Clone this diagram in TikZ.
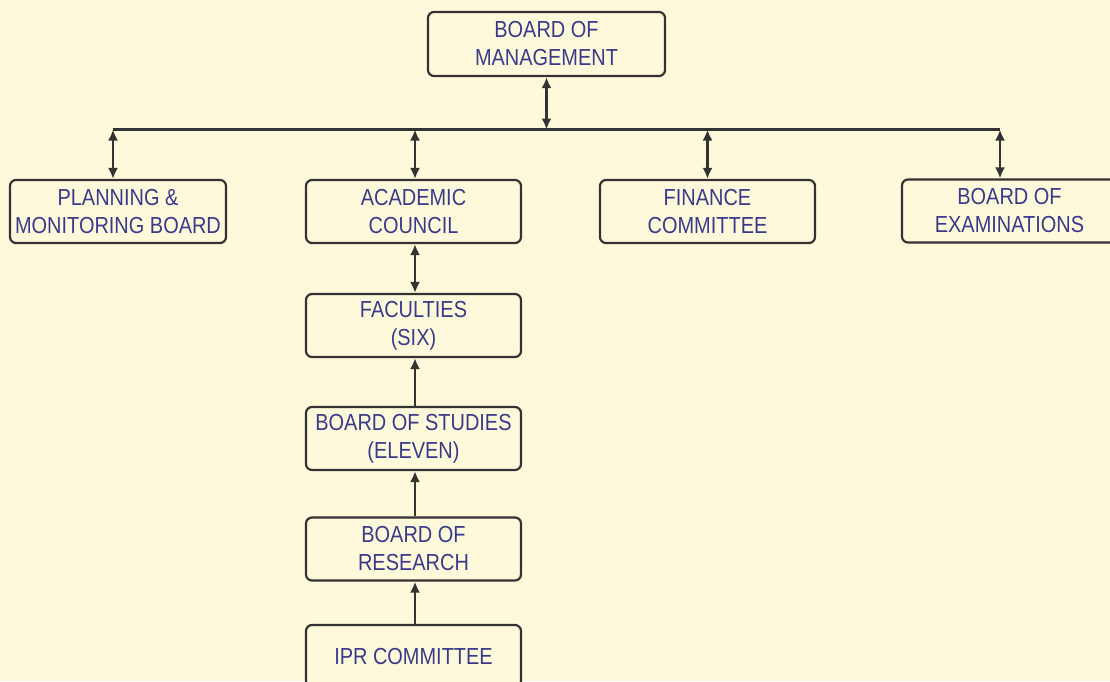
\documentclass[tikz,border=0pt]{standalone}
\usepackage{fontspec}
\setmainfont{Liberation Sans}[FakeStretch=0.86]
\usetikzlibrary{arrows.meta,calc}
\definecolor{bgc}{HTML}{FFF9DB}
\definecolor{txc}{HTML}{3A3A8A}
\definecolor{lnc}{HTML}{333333}
\begin{document}
\begin{tikzpicture}[x=1pt,y=-1pt,
  box/.style={draw=lnc,line width=2.2pt,rounded corners=6pt,fill=bgc,text=txc,
    minimum width=215pt,minimum height=63pt,align=center,inner sep=0pt,
    font=\fontsize{23.2}{28}\selectfont},
  link/.style={draw=lnc,line width=2.4pt},
  dbl/.style={link,{Latex[length=11pt,width=10pt]}-{Latex[length=11pt,width=10pt]}},
  sgl/.style={link,-{Latex[length=11pt,width=10pt]}}]
\clip (0,0) rectangle (1110,681);
\fill[bgc] (0,0) rectangle (1110,681);
\node[box,minimum width=237pt,minimum height=64pt] (bom) at (546.5,44) {BOARD OF\\MANAGEMENT};
\node[box,minimum width=216pt] (plan) at (118,211.5) {PLANNING \&\\MONITORING BOARD};
\node[box] (acad) at (413.5,211.5) {ACADEMIC\\COUNCIL};
\node[box] (fin) at (707.5,211.5) {FINANCE\\COMMITTEE};
\node[box] (exam) at (1009.5,211) {BOARD OF\\EXAMINATIONS};
\node[box] (fac) at (413.5,325.5) {FACULTIES\\(SIX)};
\node[box] (bos) at (413.5,438.5) {BOARD OF STUDIES\\(ELEVEN)};
\node[box] (bor) at (413.5,549) {BOARD OF\\RESEARCH};
\node[box,minimum height=62pt] (ipr) at (413.5,656) {IPR COMMITTEE};
\coordinate (b0) at (546.5,129.5);
\coordinate (b1) at (113,129.5);
\coordinate (b2) at (415,129.5);
\coordinate (b3) at (707.5,129.5);
\coordinate (b4) at (1000,129.5);
\draw[link] (b1) -- (b4);
\draw[dbl] (bom.south) -- (b0);
\draw[dbl] (b1) -- (plan.north -| b1);
\draw[dbl] (b2) -- (acad.north -| b2);
\draw[dbl] (b3) -- (fin.north -| b3);
\draw[dbl] (b4) -- (exam.north -| b4);
\draw[dbl] (acad.south -| b2) -- (fac.north -| b2);
\draw[sgl] (bos.north -| b2) -- (fac.south -| b2);
\draw[sgl] (bor.north -| b2) -- (bos.south -| b2);
\draw[sgl] (ipr.north -| b2) -- (bor.south -| b2);
\end{tikzpicture}
\end{document}
